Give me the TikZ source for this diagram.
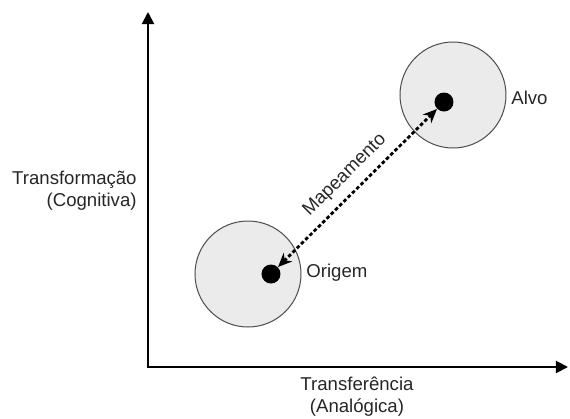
\documentclass[tikz,border=0pt]{standalone}
\usepackage{fontspec}
\setmainfont{Liberation Sans}
\usetikzlibrary{arrows.meta, positioning}

\begin{document}
\begin{tikzpicture}[
    x=0.5pt, y=-0.5pt,
    % Node styles
    region/.style={
        circle,
        draw=black!70,
        line width=0.5pt,
        fill=black!8,
        minimum size=53pt,
        inner sep=0pt
    },
    point/.style={
        circle,
        fill=black,
        minimum size=9.5pt,
        inner sep=0pt
    },
    axis/.style={
        {Triangle[length=6pt, width=6pt]}-{Triangle[length=6pt, width=6pt]},
        line width=1pt
    },
    mapping/.style={
        {Stealth[length=7pt, width=6pt]}-{Stealth[length=7pt, width=6pt]},
        line width=1.4pt,
        dash pattern=on 1.8pt off 1.2pt
    },
    label/.style={
        font=\fontsize{9.3}{11}\selectfont,
        text=black!85,
        inner sep=1pt
    }
]

\useasboundingbox (0,0) rectangle (570,419);

% --- Axes ---
\coordinate (origin) at (148,367);
\coordinate (ytop) at (148,12);
\coordinate (xend) at (568,367);
\draw[axis] (ytop) -- (origin) -- (xend);

\node[label, align=right, anchor=east] (ylabel) at (139,191) {Transforma\c{c}\~ao\\(Cognitiva)};
\node[label, align=center] (xlabel) at (357,397) {Transfer\^encia\\(Anal\'ogica)};

% --- Regions ---
\node[region] (origregion) at (248,274) {};
\node[region] (alvoregion) at (453,95) {};

\node[point] (origdot) at (271,274) {};
\node[point] (alvodot) at (444,102) {};

\node[label, anchor=west] (origlabel) at (304,273) {Origem};
\node[label, anchor=west] (alvolabel) at (509,98) {Alvo};

% --- Mapping arrow ---
\draw[mapping] (origdot) -- node[label, sloped, above=3pt] {Mapeamento} (alvodot);

\end{tikzpicture}
\end{document}
